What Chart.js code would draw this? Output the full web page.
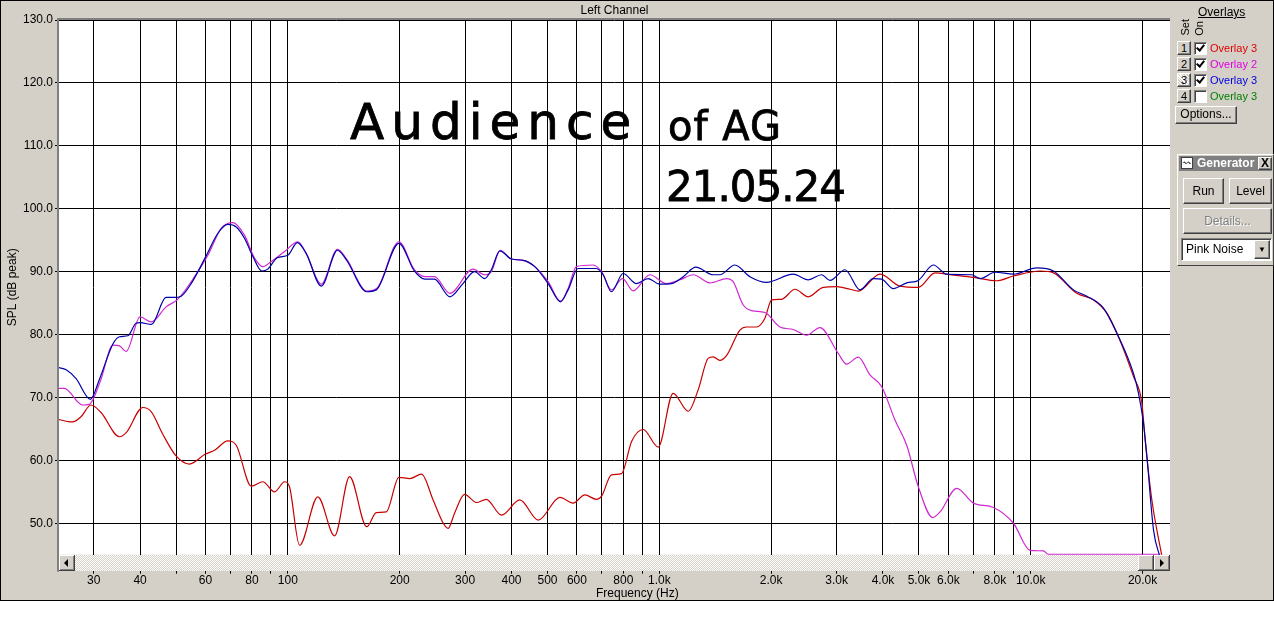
<!DOCTYPE html>
<html>
<head>
<meta charset="utf-8">
<script src="https://cdn.jsdelivr.net/npm/chart.js@4.4.1/dist/chart.umd.min.js"></script>
<style>
  body { margin: 0; background: #fff; width: 1274px; height: 637px; overflow: hidden; position: relative;
         font-family: "Liberation Sans", Arial, sans-serif; font-size: 12px; color: #000; }
  #c { position: absolute; left: 0; top: 0; }
  .ui { position: absolute; white-space: nowrap; line-height: 14px; }
  .btn { position: absolute; box-sizing: border-box; background: #d4d0c8; text-align: center;
         border: 1px solid; border-color: #fff #404040 #404040 #fff; box-shadow: inset -1px -1px #808080; }
  .chk { position: absolute; box-sizing: border-box; width: 13px; height: 13px; background: #fff;
         border: 1px solid; border-color: #808080 #fff #fff #808080; box-shadow: inset 1px 1px #404040; }
  .chk.on::after { content: ""; position: absolute; left: 3px; top: 0px; width: 3px; height: 6px;
         border: solid #000; border-width: 0 2px 2px 0; transform: rotate(40deg); }
  .vert { writing-mode: vertical-rl; transform: rotate(180deg); font-size: 11px; line-height: 11px; }
  .hand { position: absolute; font-family: "DejaVu Sans", sans-serif; color: #000; white-space: nowrap; line-height: 1;
          -webkit-text-stroke: 0.8px #000; }
</style>
</head>
<body>
<canvas id="c" width="1274" height="637"></canvas>

<div class="ui" style="left:596px;top:586px;">Frequency (Hz)</div>

<div class="hand" style="left:350px;top:97px;font-size:50px;letter-spacing:7px;">Audience</div>
<div class="hand" style="left:668px;top:106px;font-size:40px;letter-spacing:1px;">of AG</div>
<div class="hand" style="left:666px;top:166px;font-size:42px;letter-spacing:-1px;">21.05.24</div>

<div class="ui" style="left:1198px;top:5px;text-decoration:underline;">Overlays</div>
<div class="ui vert" style="left:1180px;top:19px;">Set</div>
<div class="ui vert" style="left:1194px;top:21px;">On</div>

<div class="btn" style="left:1177px;top:41px;width:14px;height:14px;line-height:12px;font-size:11px;">1</div>
<div class="chk on" style="left:1194px;top:42px;"></div>
<div class="ui" style="left:1210px;top:41px;font-size:11px;color:#e00000;">Overlay 3</div>

<div class="btn" style="left:1177px;top:57px;width:14px;height:14px;line-height:12px;font-size:11px;">2</div>
<div class="chk on" style="left:1194px;top:58px;"></div>
<div class="ui" style="left:1210px;top:57px;font-size:11px;color:#e000e0;">Overlay 2</div>

<div class="btn" style="left:1177px;top:73px;width:14px;height:14px;line-height:12px;font-size:11px;background:repeating-linear-gradient(45deg,#d4d0c8 0 1px,#fff 1px 2px);">3</div>
<div class="chk on" style="left:1194px;top:74px;"></div>
<div class="ui" style="left:1210px;top:73px;font-size:11px;color:#0000e0;">Overlay 3</div>

<div class="btn" style="left:1177px;top:89px;width:14px;height:14px;line-height:12px;font-size:11px;">4</div>
<div class="chk" style="left:1194px;top:90px;"></div>
<div class="ui" style="left:1210px;top:89px;font-size:11px;color:#008000;">Overlay 3</div>

<div class="btn" style="left:1175px;top:106px;width:62px;height:18px;line-height:15px;">Options...</div>

<div style="position:absolute;left:1177px;top:154px;width:97px;height:112px;box-sizing:border-box;border:1px solid;border-color:#fff #404040 #404040 #fff;background:#d4d0c8;"></div>
<div style="position:absolute;left:1179px;top:156px;width:93px;height:15px;background:#808080;"></div>
<div style="position:absolute;left:1181px;top:157px;width:12px;height:12px;background:#fff;border:1px solid #404040;box-sizing:border-box;font-size:8px;line-height:10px;color:#404040;text-align:center;">〰</div>
<div class="ui" style="left:1197px;top:156px;color:#fff;font-weight:bold;">Generator</div>
<div class="btn" style="left:1258px;top:157px;width:14px;height:13px;line-height:11px;font-weight:bold;font-size:12px;">X</div>
<div class="btn" style="left:1183px;top:178px;width:41px;height:26px;line-height:24px;">Run</div>
<div class="btn" style="left:1229px;top:178px;width:43px;height:26px;line-height:24px;">Level</div>
<div class="btn" style="left:1183px;top:208px;width:89px;height:26px;line-height:24px;color:#808080;text-shadow:1px 1px #fff;">Details...</div>
<div style="position:absolute;left:1181px;top:238px;width:91px;height:23px;box-sizing:border-box;background:#fff;border:1px solid;border-color:#808080 #fff #fff #808080;box-shadow:inset 1px 1px #404040;"></div>
<div class="ui" style="left:1186px;top:242px;">Pink Noise</div>
<div class="btn" style="left:1254px;top:240px;width:16px;height:19px;font-size:8px;line-height:17px;">▼</div>

<script>
// Left Channel, SPL (dB peak) vs frequency (Hz)
const blueHz = [24.1, 25.3, 26.9, 29.4, 31.1, 33.8, 35.2, 37.1, 39.0, 40.0, 42.9, 47.0, 49.5, 51.6, 54.9,
  60.0, 64.8, 68.9, 72.6, 76.4, 80.5, 85.1, 88.3, 93.6, 100, 106, 112, 123, 136, 144, 163, 173, 199, 219, 234,
  248, 273, 296, 318, 339, 353, 372, 400, 430, 462, 502, 542, 568, 604, 677, 706, 743, 799, 868, 933,
  1002, 1079, 1159, 1254, 1396, 1455, 1597, 1753, 1944, 2294, 2517, 2735, 2880, 3161, 3469, 3767, 3969, 4265,
  4634, 4980, 5466, 5938, 6937, 7301, 8014, 8978, 10380, 11510, 13020, 14160, 15690, 17050, 18900, 19500,
  20110, 20540, 21400, 22300];
const blueDb = [74.75, 74.4, 73.0, 69.7, 72.9, 78.5, 79.65, 79.8, 81.8, 81.9, 81.6, 85.9, 85.9, 86.1, 88.1,
  92.3, 96.1, 97.5, 97.1, 95.3, 92.4, 90.1, 90.4, 92.2, 92.6, 94.6, 92.9, 87.7, 93.4, 91.8, 86.8, 87.1, 94.5, 90.1, 88.8,
  88.8, 86.0, 88.1, 90.0, 88.9, 90.3, 93.3, 92.0, 91.8, 90.8, 88.1, 85.2, 87.1, 90.5, 90.5, 89.5, 86.8, 89.7, 88.1, 88.9,
  88.0, 88.1, 89.2, 90.7, 89.5, 89.5, 91.05, 89.2, 88.3, 89.6, 88.7, 89.5, 88.6, 90.3, 87.1, 88.9, 88.8, 87.3,
  88.2, 88.6, 91.05, 89.6, 89.5, 88.9, 89.9, 89.6, 90.6, 90.1, 87.1, 86.1, 84.2, 80.2, 73.8, 70.65,
  65.9, 60.6, 48.9, 44.5];

const magHz = [24.1, 25.0, 28.0, 29.2, 30.0, 31.4, 33.8, 35.2, 36.7, 40.0, 42.9, 47.0, 50.5, 56.1, 60.9,
  66.2, 71.1, 76.4, 81.4, 85.6, 90.2, 98.0, 106.4, 112, 123, 136, 144, 163, 174, 199, 219, 234, 248, 273, 315,
  339, 353, 373, 400, 430, 462, 502, 542, 568, 598, 663, 699, 743, 796, 850, 943, 1046, 1136, 1234, 1368,
  1518, 1580, 1682, 1772, 1924, 2112, 2294, 2492, 2706, 3031, 3193, 3432, 3690, 3969, 4309,
  4634, 4980, 5445, 5698, 6319, 7003, 7931, 8978, 9957, 10810, 11150, 22300];
const magDb = [71.45, 71.45, 68.8, 68.9, 69.86, 72.9, 78.3, 78.2, 77.3, 82.8, 82.0, 84.4, 85.6, 89.2, 92.6,
  96.9, 97.8, 95.8, 92.1, 90.8, 91.6, 93.2, 94.75, 92.9, 88.0, 93.55, 92.0, 86.9, 87.4, 94.75, 90.3, 89.2, 89.2, 86.55, 90.4,
  89.5, 90.0, 93.4, 92.0, 91.8, 90.8, 88.4, 85.3, 87.3, 90.8, 91.05, 90.0, 87.1, 88.9, 86.95, 89.5, 88.1, 88.7, 89.5, 88.2,
  88.9, 88.4, 84.7, 83.8, 83.5, 81.2, 80.8, 79.9, 81.1, 77.0, 75.3, 76.4, 73.6, 71.7, 66.4,
  62.4, 55.8, 50.9, 51.8, 55.55, 53.2, 52.5, 50.0, 45.7, 45.6, 45.05, 45.05];

const redHz = [24.1, 26.3, 27.8, 29.5, 31.4, 35.2, 36.7, 40.7, 42.9, 46.0, 50.0, 54.3, 60.0, 63.5, 68.9,
  72.6, 79.7, 85.6, 92.1, 98.0, 101, 107.5, 120.4, 133.6, 146.6, 163, 173, 184, 199, 213, 229, 246, 262, 270, 281,
  299, 322, 342, 376, 421, 472, 540, 586, 630, 677, 699, 743, 791, 842, 905, 993, 1089, 1196, 1272, 1353,
  1396, 1455, 1518, 1648, 1718, 1828, 1924, 2006, 2134, 2318, 2517, 2762, 3002, 3262, 3432,
  3928, 4446, 4980, 5524, 6061, 7003, 8099, 8978, 10600, 11510, 13300, 14750, 16030, 17220, 18900,
  19910, 20320, 21180, 22580];
const redDb = [66.5, 66.1, 67.0, 68.8, 67.6, 63.75, 64.4, 68.4, 67.7, 64.2, 60.7, 59.4, 61.0, 61.6, 63.1,
  62.4, 55.9, 56.6, 55.0, 56.6, 55.8, 46.5, 54.2, 48.0, 57.4, 49.45, 51.7, 51.8, 57.3, 57.1, 57.8, 53.7, 50.0, 49.2, 51.6,
  54.6, 53.3, 53.8, 51.3, 53.7, 50.5, 54.1, 53.2, 54.5, 53.8, 54.3, 57.7, 57.9, 63.0, 64.9, 62.1, 70.65, 67.8, 71.2, 76.2,
  76.45, 75.9, 76.7, 80.7, 81.2, 81.2, 82.6, 85.5, 85.6, 87.2, 86.0, 87.5, 87.6, 87.2, 86.9,
  89.6, 87.7, 87.5, 89.8, 89.5, 89.1, 88.55, 89.3, 90.1, 89.8, 86.55, 85.5, 83.4, 79.65, 73.3,
  69.1, 63.2, 53.7, 44.5];

const xTickHz = [30, 40, 50, 60, 70, 80, 90, 100, 200, 300, 400, 500, 600, 700, 800, 900,
  1000, 2000, 3000, 4000, 5000, 6000, 7000, 8000, 9000, 10000, 20000];
const xTickText = ['30', '40', '', '60', '', '80', '', '100', '200', '300', '400', '500', '600', '', '800', '',
  '1.0k', '2.0k', '3.0k', '4.0k', '5.0k', '6.0k', '', '8.0k', '', '10.0k', '20.0k'];
const yTicks = [50, 60, 70, 80, 90, 100, 110, 120, 130];

const uiFont = '"Liberation Sans", Arial, sans-serif';
const toPts = (hz, db) => hz.map((f, i) => ({ x: f, y: db[i] }));

function bevelBox(ctx, x, y, w, h) {
  ctx.fillStyle = '#d4d0c8';
  ctx.fillRect(x, y, w, h);
  ctx.fillStyle = '#fff';
  ctx.fillRect(x, y, w - 1, 1);
  ctx.fillRect(x, y, 1, h - 1);
  ctx.fillStyle = '#404040';
  ctx.fillRect(x, y + h - 1, w, 1);
  ctx.fillRect(x + w - 1, y, 1, h);
  ctx.fillStyle = '#808080';
  ctx.fillRect(x + 1, y + h - 2, w - 2, 1);
  ctx.fillRect(x + w - 2, y + 1, 1, h - 2);
}

const winFrame = {
  id: 'winFrame',
  beforeDraw(chart) {
    const { ctx, chartArea: a } = chart;
    ctx.save();
    ctx.fillStyle = '#fff';
    ctx.fillRect(0, 0, chart.width, chart.height);
    ctx.fillStyle = '#d4d0c8';
    ctx.fillRect(0, 0, chart.width, 601);
    ctx.fillStyle = '#fff';
    ctx.fillRect(a.left, a.top, a.right - a.left, a.bottom - a.top);
    ctx.restore();
  },
  afterDraw(chart) {
    const { ctx, chartArea: a } = chart;
    ctx.save();
    // sunken edge round the plot
    ctx.fillStyle = '#808080';
    ctx.fillRect(a.left - 2, a.top - 2, a.right - a.left + 2, 2);
    ctx.fillRect(a.left - 2, a.top - 2, 2, a.bottom - a.top + 19);

    // scrollbar under the plot
    const sy = Math.round(a.bottom), sh = 16;
    const p = document.createElement('canvas');
    p.width = 2; p.height = 2;
    const pc = p.getContext('2d');
    pc.fillStyle = '#d4d0c8'; pc.fillRect(0, 0, 2, 2);
    pc.fillStyle = '#fff'; pc.fillRect(0, 0, 1, 1); pc.fillRect(1, 1, 1, 1);
    ctx.fillStyle = ctx.createPattern(p, 'repeat');
    ctx.fillRect(a.left, sy, a.right - a.left, sh);
    bevelBox(ctx, a.left, sy, 16, sh);
    bevelBox(ctx, a.right - 32, sy, 16, sh);
    bevelBox(ctx, a.right - 16, sy, 16, sh);
    ctx.fillStyle = '#000';
    ctx.beginPath();
    ctx.moveTo(a.left + 5, sy + 8); ctx.lineTo(a.left + 9, sy + 4); ctx.lineTo(a.left + 9, sy + 12);
    ctx.closePath(); ctx.fill();
    ctx.beginPath();
    ctx.moveTo(a.right - 6, sy + 8); ctx.lineTo(a.right - 10, sy + 4); ctx.lineTo(a.right - 10, sy + 12);
    ctx.closePath(); ctx.fill();

    // window frame
    ctx.strokeStyle = '#000';
    ctx.lineWidth = 1;
    ctx.strokeRect(0.5, 0.5, chart.width - 1, 600);
    ctx.restore();
  }
};

new Chart(document.getElementById('c'), {
  type: 'line',
  data: {
    datasets: [
      { label: 'Overlay 3 (set 3)', data: toPts(blueHz, blueDb), borderColor: 'rgb(0,0,170)' },
      { label: 'Overlay 2', data: toPts(magHz, magDb), borderColor: 'rgb(208,40,208)' },
      { label: 'Overlay 3 (set 1)', data: toPts(redHz, redDb), borderColor: 'rgb(200,0,0)' }
    ]
  },
  options: {
    responsive: false,
    animation: false,
    devicePixelRatio: 1,
    elements: {
      point: { radius: 0 },
      line: { borderWidth: 1.2, cubicInterpolationMode: 'monotone', fill: false }
    },
    layout: { padding: { left: 0, top: 0, right: 104, bottom: 36.3 } },
    plugins: {
      legend: { display: false },
      tooltip: { enabled: false },
      title: {
        display: true,
        text: 'Left Channel',
        fullSize: false,
        color: '#000',
        font: { family: uiFont, size: 12, weight: 'normal' },
        padding: { top: 3, bottom: 2.6 }
      }
    },
    scales: {
      x: {
        type: 'logarithmic',
        min: 24.2,
        max: 23700,
        afterBuildTicks: s => { s.ticks = xTickHz.map(v => ({ value: v })); },
        afterFit: s => { s.height = 46; },
        grid: { color: '#000', lineWidth: 1, tickLength: 19, drawTicks: true },
        border: { display: false },
        ticks: {
          autoSkip: false, maxRotation: 0, minRotation: 0, padding: 0,
          color: '#000', font: { family: uiFont, size: 12 },
          callback: (v, i) => xTickText[i]
        }
      },
      y: {
        min: 45.0,
        max: 130,
        afterBuildTicks: s => { s.ticks = yTicks.map(v => ({ value: v })); },
        afterFit: s => { s.width = 59; },
        grid: { color: '#000', lineWidth: 1, tickLength: 4 },
        border: { display: false },
        ticks: {
          padding: 2, color: '#000', font: { family: uiFont, size: 12 },
          callback: v => v.toFixed(1)
        },
        title: {
          display: true, text: 'SPL (dB peak)', color: '#000',
          font: { family: uiFont, size: 12 }, padding: { top: 5, bottom: 0 }
        }
      }
    }
  },
  plugins: [winFrame]
});
</script>
</body>
</html>
